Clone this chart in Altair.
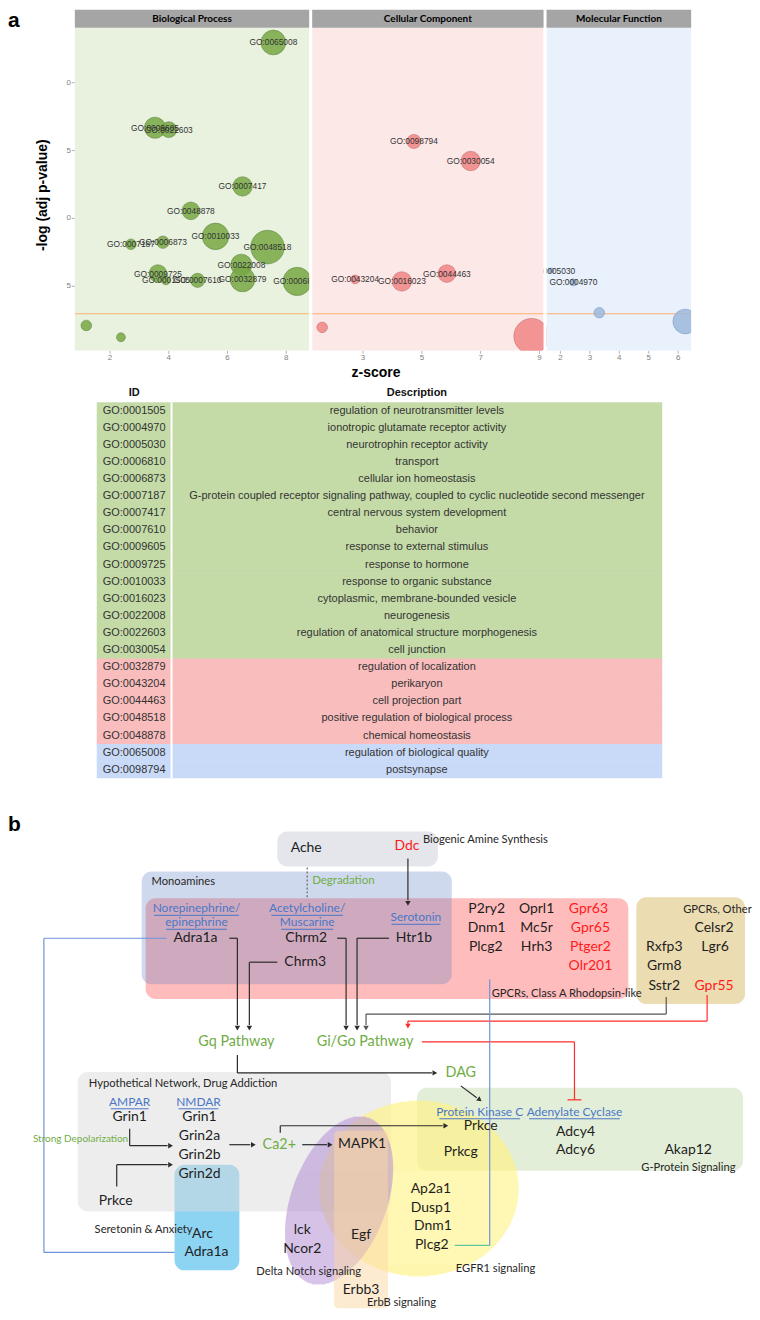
import math
import altair as alt
import pandas as pd

# ================= Panel a : GO bubble data =================
BP_ID = ["GO:0065008", "GO:0009605", "GO:0022603", "GO:0007417", "GO:0048878", "GO:0010033",
         "GO:0007187", "GO:0006873", "GO:0048518", "GO:0022008", "GO:0009725", "GO:0001505",
         "GO:0007610", "GO:0032879", "GO:0006810", "", ""]
BP_Z = [7.56, 3.53, 4.00, 6.51, 4.75, 5.59, 2.71, 3.80, 7.36, 6.47, 3.63, 3.90, 4.98, 6.51, 8.37, 1.19, 2.37]
BP_P = [22.96, 16.68, 16.54, 12.36, 10.56, 8.68, 8.10, 8.25, 7.89, 6.59, 5.94, 5.44, 5.44, 5.51, 5.36, 2.12, 1.25]
BP_N = [196, 144, 81, 121, 100, 225, 36, 49, 361, 144, 100, 25, 64, 196, 256, 36, 25]

CC_ID = ["GO:0098794", "GO:0030054", "GO:0044463", "GO:0016023", "GO:0043204", "", ""]
CC_Z = [4.73, 6.66, 5.85, 4.32, 2.73, 1.61, 8.73]
CC_P = [15.67, 14.23, 5.94, 5.36, 5.51, 1.98, 1.33]
CC_N = [64, 121, 100, 121, 25, 36, 400]

MF_ID = ["GO:0005030", "GO:0004970", "", ""]
MF_Z = [1.69, 2.44, 3.32, 6.24]
MF_P = [6.16, 5.29, 3.06, 2.41]
MF_N = [9, 16, 36, 196]

THRESHOLD = 2.98
Y_TICKS = [5, 10, 15, 20]
BP_XTICKS = [2, 4, 6, 8]
CC_XTICKS = [3, 5, 7, 9]
MF_XTICKS = [2, 3, 4, 5, 6]

# ================= Table data =================
TABLE_ID = ["GO:0001505", "GO:0004970", "GO:0005030", "GO:0006810", "GO:0006873", "GO:0007187",
            "GO:0007417", "GO:0007610", "GO:0009605", "GO:0009725", "GO:0010033", "GO:0016023",
            "GO:0022008", "GO:0022603", "GO:0030054", "GO:0032879", "GO:0043204", "GO:0044463",
            "GO:0048518", "GO:0048878", "GO:0065008", "GO:0098794"]
TABLE_DESC = ["regulation of neurotransmitter levels", "ionotropic glutamate receptor activity",
              "neurotrophin receptor activity", "transport", "cellular ion homeostasis",
              "G-protein coupled receptor signaling pathway, coupled to cyclic nucleotide second messenger",
              "central nervous system development", "behavior", "response to external stimulus",
              "response to hormone", "response to organic substance", "cytoplasmic, membrane-bounded vesicle",
              "neurogenesis", "regulation of anatomical structure morphogenesis", "cell junction",
              "regulation of localization", "perikaryon", "cell projection part",
              "positive regulation of biological process", "chemical homeostasis",
              "regulation of biological quality", "postsynapse"]
TABLE_GROUP = ["g"] * 15 + ["p"] * 5 + ["b"] * 2

# ================= Panel b : network labels =================
K, R = "#1e1e1e", "#ff1a1a"
GENES = [("Ache", 307, 849, K), ("Ddc", 408, 847, R),
         ("Adra1a", 196, 939, K), ("Chrm2", 307, 939, K), ("Htr1b", 415, 939, K), ("Chrm3", 306, 963, K),
         ("P2ry2", 488, 910, K), ("Oprl1", 538, 910, K), ("Gpr63", 590, 910, R),
         ("Dnm1", 488, 929, K), ("Mc5r", 538, 929, K), ("Gpr65", 592, 929, R),
         ("Plcg2", 487, 948, K), ("Hrh3", 538, 948, K), ("Ptger2", 592, 948, R), ("Olr201", 592, 967, R),
         ("Celsr2", 716, 929, K), ("Rxfp3", 666, 948, K), ("Lgr6", 717, 948, K), ("Grm8", 666, 967, K),
         ("Sstr2", 666, 987, K), ("Gpr55", 716, 987, R),
         ("Grin1", 130, 1118, K), ("Grin1", 200, 1118, K), ("Grin2a", 200, 1137, K), ("Grin2b", 200, 1156, K),
         ("Grin2d", 200, 1175, K), ("Prkce", 116, 1202, K),
         ("MAPK1", 363, 1145, K), ("Prkce", 482, 1127, K), ("Prkcg", 462, 1153, K),
         ("Adcy4", 577, 1133, K), ("Adcy6", 577, 1151, K), ("Akap12", 690, 1151, K),
         ("Arc", 203, 1236, K), ("Adra1a", 207, 1254, K),
         ("lck", 303, 1232, K), ("Ncor2", 303, 1251, K), ("Egf", 362, 1237, K),
         ("Ap2a1", 432, 1190, K), ("Dusp1", 432, 1209, K), ("Dnm1", 434, 1228, K), ("Plcg2", 433, 1247, K),
         ("Erbb3", 362, 1292, K)]
PATHWAYS = [("Gq Pathway", 237, 1043), ("Gi/Go Pathway", 366, 1043), ("DAG", 462, 1074), ("Ca2+", 280, 1146)]
GREEN_NOTES = [("Degradation", 313, 882, 11.5), ("Strong Depolarization", 33, 1140, 10)]
GROUP_LABELS = [("Biogenic Amine Synthesis", 424, 840), ("Monoamines", 152, 883),
                ("GPCRs, Class A Rhodopsin-like", 493, 995), ("GPCRs, Other", 685, 911),
                ("Hypothetical Network, Drug Addiction", 89, 1085), ("G-Protein Signaling", 643, 1169),
                ("Delta Notch signaling", 257, 1274), ("EGFR1 signaling", 457, 1271),
                ("ErbB signaling", 368, 1305)]
GROUP_LABELS_RIGHT = [("Seretonin & Anxiety", 193, 1232)]
LINK_LABELS = [("Norepinephrine/", 197, 909, 85), ("epinephrine", 197, 923, 61),
               ("Acetylcholine/", 308, 909, 72), ("Muscarine", 308, 923, 52), ("Serotonin", 417, 918, 49),
               ("AMPAR", 130, 1103, 38), ("NMDAR", 199, 1103, 40),
               ("Protein Kinase C", 481, 1113, 81), ("Adenylate Cyclase", 576, 1113, 91)]

# ---- layout of panel b (boxes, ellipses, connectors), page pixels ----
BOXES = [(278, 832, 439, 867, "#e4e6ec", 1.0),
         (146, 899, 630, 1000, "#ffbcbc", 1.0),
         (142, 872, 453, 985, "#5f82c4", 0.3),
         (638, 898, 747, 1005, "#ecdcb2", 1.0),
         (175, 1166, 240, 1272, "#8dd3f2", 1.0),
         (78, 1073, 392, 1213, "#dcdcdc", 0.5),
         (418, 1089, 745, 1172, "#e3eed8", 1.0)]
ELLIPSES = [(420, 1190, 100, 88, 0, "#fff38a", 0.8),
            (340, 1202, 48, 88, 20, "#b38bd3", 0.6)]
ERBB_BOX = [(335, 1132, 389, 1310, "#fcd7a4", 0.5)]
DK, GY, RD, BL, TL = "#2b2b2b", "#555555", "#ff2a2a", "#6f93d8", "#5cc8a0"
SEGMENTS = [(230, 939, 238, 939, DK), (238, 939, 238, 1026, DK),
            (278, 963, 250, 963, DK), (250, 963, 250, 1026, DK),
            (338, 939, 347, 939, DK), (347, 939, 347, 1026, DK),
            (390, 939, 358, 939, DK), (358, 939, 358, 1026, DK),
            (409, 859, 409, 901, DK),
            (238, 1056, 238, 1074, DK), (238, 1074, 433, 1074, DK),
            (462, 1087, 478, 1099, DK),
            (130, 1130, 130, 1147, DK), (130, 1147, 168, 1147, DK),
            (117, 1188, 117, 1166, DK), (117, 1166, 168, 1166, DK),
            (230, 1146, 251, 1146, DK), (303, 1146, 328, 1146, DK),
            (281, 1134, 281, 1127, DK), (281, 1127, 444, 1127, DK),
            (668, 998, 668, 1015, GY), (668, 1015, 367, 1015, GY), (367, 1015, 367, 1026, GY),
            (709, 996, 709, 1022, RD), (709, 1022, 409, 1022, RD), (409, 1022, 409, 1025, RD),
            (423, 1043, 576, 1043, RD), (576, 1043, 576, 1101, RD), (569, 1101, 583, 1101, RD),
            (167, 939, 44, 939, BL), (44, 939, 44, 1254, BL), (44, 1254, 175, 1254, BL),
            (491, 980, 491, 1247, BL), (491, 1247, 456, 1247, TL)]
DASHED = [(308, 868, 308, 898, "#666666")]
ARROWS = [(238, 1029, 90, DK), (250, 1029, 90, DK), (347, 1029, 90, DK), (358, 1029, 90, DK),
          (367, 1029, 90, GY), (409, 904, 90, DK), (409, 1027, 90, RD),
          (436, 1074, 0, DK), (171, 1147, 0, DK), (171, 1166, 0, DK), (254, 1146, 0, DK),
          (331, 1146, 0, DK), (447, 1127, 0, DK), (481, 1101, 37, DK)]

# ================= common pixel scales (page coordinates) =================
W, HT = 744, 1304
PXX = alt.Scale(domain=[8, 8 + W], range=[0, W], nice=False, zero=False)
PXY = alt.Scale(domain=[8, 8 + HT], range=[0, HT], nice=False, zero=False)


def X(f="x"):
    return alt.X(f + ":Q", scale=PXX, axis=None)


def Y(f="y"):
    return alt.Y(f + ":Q", scale=PXY, axis=None)


def texts(rows, size, font="Lato", align="center", weight="normal", color="#000000", baseline="middle",
          angle=0):
    df = pd.DataFrame(rows)
    kw = dict(font=font, fontSize=size, align=align, fontWeight=weight, baseline=baseline)
    if angle:
        kw["angle"] = angle
    if "c" in df.columns:
        return alt.Chart(df).mark_text(**kw).encode(
            x=X(), y=Y(), text="label:N", color=alt.Color("c:N", scale=None))
    return alt.Chart(df).mark_text(color=color, **kw).encode(x=X(), y=Y(), text="label:N")


def rects(rows, radius=0):
    df = pd.DataFrame(rows, columns=["x", "y", "x2", "y2", "c", "o"])
    return alt.Chart(df).mark_rect(cornerRadius=radius).encode(
        x=X(), x2=alt.X2("x2"), y=Y(), y2=alt.Y2("y2"),
        color=alt.Color("c:N", scale=None), opacity=alt.Opacity("o:Q", scale=None))


def segs(rows, width=1.2, dash=None):
    df = pd.DataFrame(rows, columns=["x", "y", "x2", "y2", "c"])
    kw = dict(strokeWidth=width)
    if dash:
        kw["strokeDash"] = dash
    return alt.Chart(df).mark_rule(**kw).encode(
        x=X(), y=Y(), x2=alt.X2("x2"), y2=alt.Y2("y2"), color=alt.Color("c:N", scale=None))


def ellipse_rows(cx, cy, sw, sh, tilt, col, op):
    """One-pixel horizontal strips that fill a tilted ellipse."""
    t = math.radians(tilt)
    c, s = math.cos(t), math.sin(t)
    A = c * c / sw ** 2 + s * s / sh ** 2
    out = []
    ext = int(math.ceil(math.sqrt((sw * s) ** 2 + (sh * c) ** 2))) + 1
    for k in range(int(cy) - ext, int(cy) + ext + 1):
        dy = k + 0.5 - cy
        B = 2 * dy * s * c * (1 / sw ** 2 - 1 / sh ** 2)
        C = dy * dy * (s * s / sw ** 2 + c * c / sh ** 2) - 1
        disc = B * B - 4 * A * C
        if disc <= 0:
            continue
        r = math.sqrt(disc)
        out.append((cx + (-B - r) / (2 * A), k, cx + (-B + r) / (2 * A), k + 1, col, op))
    return out


# ================= Panel a geometry (page pixels) =================
HDR_TOP, PLOT_TOP, PLOT_BOTTOM = 8, 26, 350
YDOM = [0.25, 24.05]
PANELS = [
    dict(name="Biological Process", ids=BP_ID, z=BP_Z, p=BP_P, n=BP_N, x0=75, x1=310, xdom=[0.8, 8.78],
         ticks=BP_XTICKS, fill="#77a844", stroke="#557a35", bg="#e9f1df"),
    dict(name="Cellular Component", ids=CC_ID, z=CC_Z, p=CC_P, n=CC_N, x0=313, x1=545, xdom=[1.27, 9.14],
         ticks=CC_XTICKS, fill="#f08585", stroke="#b86060", bg="#fde8e8"),
    dict(name="Molecular Function", ids=MF_ID, z=MF_Z, p=MF_P, n=MF_N, x0=548, x1=693, xdom=[1.53, 6.44],
         ticks=MF_XTICKS, fill="#9db8dc", stroke="#6f8fb8", bg="#e9f1fc"),
]
YS = alt.Scale(domain=YDOM, range=[PLOT_BOTTOM - 8, PLOT_TOP - 8], nice=False, zero=False)
SZ = alt.Scale(domain=[0, 400], range=[0, 1257])


def xscale(pn):
    return alt.Scale(domain=pn["xdom"], range=[pn["x0"] - 8, pn["x1"] - 8], nice=False, zero=False)


def panel_body(pn):
    xs = xscale(pn)
    df = pd.DataFrame({"id": pn["ids"], "z": pn["z"], "p": pn["p"], "n": pn["n"]})
    out = [rects([(pn["x0"], PLOT_TOP, pn["x1"], PLOT_BOTTOM, pn["bg"], 1.0)])]
    out.append(alt.Chart(pd.DataFrame({"p": [THRESHOLD]})).mark_rule(color="#f9b36c", strokeWidth=1).encode(
        x=alt.value(pn["x0"] - 8), x2=alt.value(pn["x1"] - 8), y=alt.Y("p:Q", scale=YS, axis=None)))
    out.append(alt.Chart(df).mark_circle(fill=pn["fill"], fillOpacity=0.85, stroke=pn["stroke"],
                                         strokeWidth=0.6, strokeOpacity=0.8).encode(
        x=alt.X("z:Q", scale=xs, axis=None), y=alt.Y("p:Q", scale=YS, axis=None),
        size=alt.Size("n:Q", scale=SZ, legend=None)))
    out.append(alt.Chart(df).mark_text(font="Liberation Sans", fontSize=8.4, color="#333333").encode(
        x=alt.X("z:Q", scale=xs, axis=None), y=alt.Y("p:Q", scale=YS, axis=None), text="id:N"))
    return out


def panel_axis(pn):
    xs = xscale(pn)
    tdf = pd.DataFrame({"v": pn["ticks"], "lab": [str(v) for v in pn["ticks"]]})
    return [
        alt.Chart(tdf).mark_rule(color="#b5b5b5").encode(
            x=alt.X("v:Q", scale=xs, axis=None), y=alt.value(PLOT_BOTTOM - 8), y2=alt.value(PLOT_BOTTOM - 5)),
        alt.Chart(tdf).mark_text(font="Liberation Sans", fontSize=8, color="#808080", baseline="middle").encode(
            x=alt.X("v:Q", scale=xs, axis=None), y=alt.value(357 - 8), text="lab:N"),
    ]


layers = []
BP, CC, MF = PANELS
# bodies: later panels cover spill-over of earlier ones, like the clipped ggplot panels
for pn in (BP, MF, CC):
    layers += panel_body(pn)
# masks for spill-over outside the panels
layers.append(rects([(548, 314, 555, PLOT_BOTTOM, MF["bg"], 1.0),
                     (310, PLOT_TOP, 313, PLOT_BOTTOM + 8, "#ffffff", 1.0),
                     (545, PLOT_TOP, 548, PLOT_BOTTOM + 8, "#ffffff", 1.0),
                     (693, PLOT_TOP, 720, PLOT_BOTTOM + 8, "#ffffff", 1.0),
                     (75, PLOT_BOTTOM, 720, PLOT_BOTTOM + 8, "#ffffff", 1.0)]))
# strip headers
layers.append(rects([(pn["x0"], HDR_TOP, pn["x1"], PLOT_TOP, "#a5a5a5", 1.0) for pn in PANELS]))
layers.append(texts([{"x": (pn["x0"] + pn["x1"]) / 2, "y": (HDR_TOP + PLOT_TOP) / 2, "label": pn["name"]}
                     for pn in PANELS], 10, weight="bold"))
# axes
for pn in PANELS:
    layers += panel_axis(pn)
ydf = pd.DataFrame({"v": Y_TICKS, "lab": [str(v)[-1] for v in Y_TICKS]})
layers.append(alt.Chart(ydf).mark_rule(color="#b5b5b5").encode(
    x=alt.value(72 - 8), x2=alt.value(75 - 8), y=alt.Y("v:Q", scale=YS, axis=None)))
layers.append(alt.Chart(ydf).mark_text(font="Liberation Sans", fontSize=8, color="#808080", align="right",
                                       baseline="middle").encode(
    x=alt.value(71 - 8), y=alt.Y("v:Q", scale=YS, axis=None), text="lab:N"))
layers.append(texts([{"x": 43, "y": 194, "label": "-log (adj p-value)"}], 14, font="Liberation Sans",
                    weight="bold", angle=270))
layers.append(texts([{"x": 8, "y": 8, "label": "a"}], 21, font="Liberation Sans", align="left",
                    weight="bold", baseline="top"))
layers.append(texts([{"x": 377, "y": 372, "label": "z-score"}], 14, font="Liberation Sans", weight="bold"))

# ================= table =================
TABLE_LEFT, TABLE_SEP, TABLE_RIGHT = 97, 172, 664
ROW_TOP, ROW_H = 401.5, 17.14
GROUP_COLOR = {"g": "#c4dba8", "p": "#f9bdbd", "b": "#c9daf8"}
trows = []
n_rows = len(TABLE_ID)
for i, (gid, desc, grp) in enumerate(zip(TABLE_ID, TABLE_DESC, TABLE_GROUP)):
    bottom = ROW_TOP + (i + 1) * ROW_H + (0.7 if i < n_rows - 1 else 0)
    trows.append({"x": TABLE_LEFT, "x2": TABLE_RIGHT, "y": ROW_TOP + i * ROW_H,
                  "y2": bottom, "c": GROUP_COLOR[grp],
                  "id": gid, "desc": desc, "yc": ROW_TOP + (i + 0.5) * ROW_H,
                  "xi": 134.5, "xd": 418})
tdf = pd.DataFrame(trows)
layers.append(alt.Chart(tdf).mark_rect().encode(
    x=X(), x2=alt.X2("x2"), y=Y(), y2=alt.Y2("y2"), color=alt.Color("c:N", scale=None)))
layers.append(segs([(TABLE_SEP, ROW_TOP, TABLE_SEP, ROW_TOP + n_rows * ROW_H, "#ffffff")], width=2))
layers.append(alt.Chart(tdf).mark_text(font="Liberation Sans", fontSize=11, color="#333333").encode(
    x=X("xi"), y=Y("yc"), text="id:N"))
layers.append(alt.Chart(tdf).mark_text(font="Liberation Sans", fontSize=11, color="#333333").encode(
    x=X("xd"), y=Y("yc"), text="desc:N"))
layers.append(texts([{"x": 134.5, "y": 392, "label": "ID"}, {"x": 418, "y": 392, "label": "Description"}],
                    11, font="Liberation Sans", weight="bold", color="#111111"))

# ================= network (panel b) =================
layers.append(rects(BOXES, radius=10))
ell = []
for e in ELLIPSES:
    ell += ellipse_rows(*e)
layers.append(rects(ell, radius=0))
layers.append(rects(ERBB_BOX, radius=4))
layers.append(segs(SEGMENTS, width=1.2))
layers.append(segs(DASHED, width=1.2, dash=[2, 2]))
adf = pd.DataFrame(ARROWS, columns=["x", "y", "a", "c"])
layers.append(alt.Chart(adf).mark_point(shape="triangle-right", filled=True, size=30, opacity=1).encode(
    x=X(), y=Y(), angle=alt.Angle("a:Q", scale=None), color=alt.Color("c:N", scale=None)))

layers.append(texts([{"x": 8, "y": 825, "label": "b"}], 21, font="Liberation Sans", align="left", weight="bold"))
layers.append(texts([{"x": x, "y": y, "label": l, "c": c} for (l, x, y, c) in GENES], 14))
layers.append(texts([{"x": x, "y": y, "label": l} for (l, x, y) in PATHWAYS], 14.4, color="#70ad47"))
for (l, x, y, s) in GREEN_NOTES:
    layers.append(texts([{"x": x, "y": y, "label": l}], s, align="left", color="#70ad47"))
layers.append(texts([{"x": x, "y": y, "label": l} for (l, x, y) in GROUP_LABELS], 11.2, align="left",
                    color="#262626"))
layers.append(texts([{"x": x, "y": y, "label": l} for (l, x, y) in GROUP_LABELS_RIGHT], 11.2, align="right",
                    color="#262626"))
layers.append(texts([{"x": x, "y": y, "label": l} for (l, x, y, w) in LINK_LABELS], 12, color="#4a76c8"))
layers.append(segs([(x - w / 2, y + 7, x + w / 2, y + 7, "#4a76c8") for (l, x, y, w) in LINK_LABELS], width=1))

chart = alt.layer(*layers).resolve_scale(
    x="independent", y="independent", size="independent", color="independent",
    opacity="independent", angle="independent"
).properties(width=W, height=HT, padding=0).configure_view(stroke=None)
chart.save("out.html", embed_options={"renderer": "svg", "actions": False})
